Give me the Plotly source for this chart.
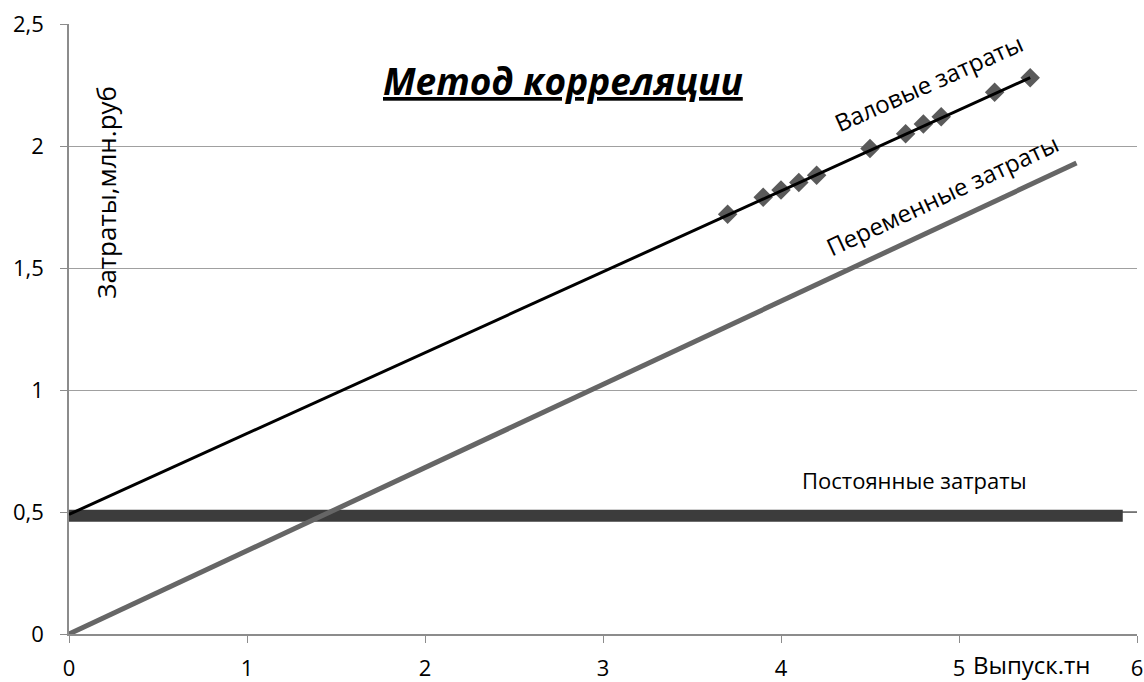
import plotly.graph_objects as go

# Data
output_x = [3.7, 3.9, 4.0, 4.1, 4.2, 4.5, 4.7, 4.8, 4.9, 5.2, 5.4]
gross_y = [1.72, 1.79, 1.82, 1.85, 1.88, 1.99, 2.05, 2.09, 2.12, 2.22, 2.28]

gross_line_x = [0, 5.4]
gross_line_y = [0.49, 2.28]

variable_x = [0, 5.66]
variable_y = [0, 1.93]

fixed_x = [0, 5.92]
fixed_y = [0.485, 0.485]
fixed_thin_x = [0, 6]
fixed_thin_y = [0.5, 0.5]

y_ticks = [0, 0.5, 1, 1.5, 2, 2.5]
y_tick_text = ["0", "0,5", "1", "1,5", "2", "2,5"]
x_ticks = [0, 1, 2, 3, 4, 5, 6]
x_tick_text = ["0", "1", "2", "3", "4", "5", "6"]

FONT = "Open Sans"
TXT = 22

fig = go.Figure()
fig.add_trace(go.Scatter(x=fixed_thin_x, y=fixed_thin_y, mode="lines",
                         line=dict(color="#666666", width=1.5), hoverinfo="skip"))
fig.add_trace(go.Scatter(x=fixed_x, y=fixed_y, mode="lines",
                         line=dict(color="#3c3c3c", width=12), name="Постоянные затраты"))
fig.add_trace(go.Scatter(x=variable_x, y=variable_y, mode="lines",
                         line=dict(color="#666666", width=5), name="Переменные затраты"))
fig.add_trace(go.Scatter(x=output_x, y=gross_y, mode="markers",
                         marker=dict(symbol="diamond", size=15, color="#5a5a5a"),
                         name="Валовые затраты"))
fig.add_trace(go.Scatter(x=gross_line_x, y=gross_line_y, mode="lines",
                         line=dict(color="#000000", width=3), name="Тренд"))

annotations = [
    dict(x=0.4625, y=0.908, xref="paper", yref="paper", xanchor="center", yanchor="middle",
         text="Метод корреляции", showarrow=False,
         font=dict(family=FONT, size=37, color="#000000", style="italic",
                   weight="bold", lineposition="under")),
    dict(x=4.83, y=2.26, text="Валовые затраты", showarrow=False, textangle=-24,
         font=dict(family=FONT, size=24, color="#000000")),
    dict(x=4.91, y=1.8, text="Переменные затраты", showarrow=False, textangle=-25,
         font=dict(family=FONT, size=24, color="#000000")),
    dict(x=4.75, y=0.63, text="Постоянные затраты", showarrow=False,
         font=dict(family=FONT, size=TXT, color="#000000")),
    dict(x=0.21, y=1.81, text="Затраты,млн.руб", showarrow=False, textangle=-90,
         font=dict(family=FONT, size=26, color="#000000")),
    dict(x=5.41, y=-0.05, xref="x", yref="paper", xanchor="center", yanchor="middle",
         text="Выпуск.тн", showarrow=False,
         font=dict(family=FONT, size=24, color="#000000")),
]

fig.update_layout(
    width=1144, height=682,
    margin=dict(l=69, r=7, t=24, b=48),
    paper_bgcolor="white", plot_bgcolor="white",
    showlegend=False,
    font=dict(family=FONT, size=TXT, color="#000000"),
    annotations=annotations,
    xaxis=dict(range=[0, 6], tickvals=x_ticks, ticktext=x_tick_text,
               showgrid=False, zeroline=False, showline=True, automargin=False,
               linecolor="#8c8c8c", linewidth=1.5, ticks="outside",
               ticklen=7, tickcolor="#8c8c8c", ticklabelstandoff=7,
               ticklabeloverflow="allow",
               tickfont=dict(family=FONT, size=TXT, color="#000000")),
    yaxis=dict(range=[0, 2.5], tickvals=y_ticks, ticktext=y_tick_text,
               showgrid=True, gridcolor="#a0a0a0", gridwidth=1.2, automargin=False,
               zeroline=False, showline=True, linecolor="#8c8c8c", linewidth=1.5,
               ticks="outside", ticklen=7, tickcolor="#8c8c8c", ticklabelstandoff=12,
               ticklabeloverflow="allow",
               tickfont=dict(family=FONT, size=TXT, color="#000000")),
)

fig.write_html("out.html", config={"displayModeBar": False},
               post_script="document.body.style.margin='0';")
